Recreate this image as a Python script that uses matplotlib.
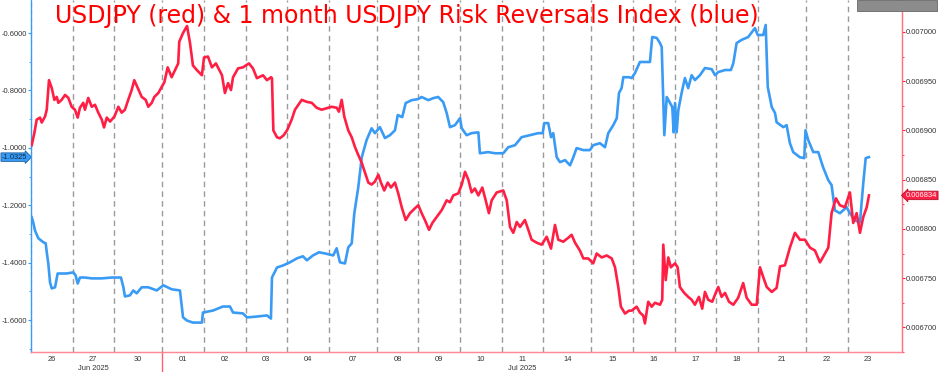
import numpy as np
import matplotlib
matplotlib.use("Agg")
import matplotlib.pyplot as plt
from matplotlib.patches import Rectangle
from matplotlib.transforms import blended_transform_factory

plt.rcParams["axes.unicode_minus"] = False
plt.rcParams["font.family"] = ["Liberation Sans", "DejaVu Sans"]

# Sessions (hours per day, Mondays include the Sunday evening open)
day_labels = ["26", "27", "30", "01", "02", "03", "04", "07", "08", "09",
              "10", "11", "14", "15", "16", "17", "18", "21", "22", "23"]
day_hours = [24, 24, 28, 24, 24, 24, 24, 28, 24, 24,
             24, 24, 28, 24, 24, 24, 24, 28, 24, 24]
month_labels = ["Jun 2025", "Jul 2025"]
month_label_days = ["27", "11"]
month_start_day = "01"

# USDJPY (inverted, USD per JPY), values in 1e-6
red_t = [0.4, 1.9, 3.3, 5.2, 6.2, 8.1, 9.1, 10.4, 12.0, 13.5, 14.9, 15.8, 17.7, 19.7, 21.6, 23.5,
         25.4, 27.0, 28.3, 30.2, 31.2, 33.1, 35.1, 37.0, 38.9, 40.9, 42.2, 43.8, 45.7, 48.2, 50.5,
         52.4, 54.3, 56.2, 58.2, 59.7, 61.7, 64.0, 66.3, 67.8, 69.8, 71.3, 73.6, 75.5, 77.1, 79.0,
         81.3, 83.2, 85.1, 85.7, 87.9, 90.2, 91.9, 93.6, 96.0, 98.8, 100.0, 102.3, 104.6, 106.9,
         110.4, 112.1, 113.9, 115.6, 116.8, 119.7, 122.5, 126.0, 128.3, 130.6, 134.1, 136.4, 138.7,
         139.3, 140.1, 142.2, 143.9, 146.0, 148.0, 150.7, 152.6, 156.5, 159.4, 162.3, 165.1, 168.0,
         171.8, 173.8, 176.7, 178.0, 179.6, 181.1, 183.4, 185.4, 187.3, 189.2, 191.2, 193.1, 195.0,
         196.9, 198.8, 200.8, 202.3, 204.2, 206.2, 208.1, 210.4, 212.3, 214.3, 216.6, 219.1, 222.0,
         223.9, 225.8, 227.7, 230.1, 232.0, 234.5, 237.4, 240.3, 242.2, 244.1, 247.0, 249.0, 250.9,
         252.8, 254.7, 256.6, 258.6, 260.9, 262.4, 264.7, 266.3, 269.2, 273.0, 275.0, 276.9, 278.8,
         280.8, 282.7, 285.5, 287.5, 289.4, 292.3, 295.2, 298.1, 300.6, 302.9, 304.8, 307.7, 310.6,
         312.5, 314.5, 317.3, 319.3, 322.1, 325.0, 327.0, 329.9, 332.8, 335.7, 337.6, 339.5, 341.0,
         343.4, 345.7, 347.2, 350.1, 352.0, 353.9, 354.9, 356.8, 358.8, 360.7, 363.6, 364.9, 365.5,
         366.9, 368.4, 369.9, 372.3, 373.8, 375.1, 377.6, 379.9, 381.9, 383.8, 386.1, 388.0, 389.6,
         391.5, 393.8, 395.8, 397.3, 399.2, 401.2, 403.5, 406.0, 408.8, 411.7, 413.7, 416.6, 419.5,
         421.4, 423.3, 425.3, 428.2, 431.0, 433.0, 435.8, 438.7, 441.6, 444.5, 447.4, 450.3, 453.2,
         456.1, 459.0, 460.9, 462.8, 465.3, 467.6, 470.5, 473.4, 475.3, 477.3, 479.2, 481.1, 483.1,
         484.4]
red_v = [6885, 6897, 6911, 6913, 6908, 6914, 6921, 6951, 6943, 6931, 6934, 6928, 6931, 6936, 6933, 6924,
         6921, 6913, 6923, 6928, 6921, 6933, 6924, 6926, 6918, 6911, 6903, 6913, 6909, 6914, 6924,
         6918, 6921, 6931, 6941, 6951, 6943, 6934, 6931, 6924, 6928, 6934, 6938, 6944, 6949, 6964,
         6954, 6961, 6968, 6990, 6999, 7006, 6989, 6966, 6961, 6956, 6974, 6975, 6964, 6968,
         6956, 6938, 6948, 6941, 6954, 6963, 6964, 6968, 6963, 6953, 6956, 6951, 6954,
         6953, 6900, 6893, 6892, 6895, 6900, 6911, 6921, 6931, 6929, 6928, 6923, 6921,
         6923, 6924, 6923, 6919, 6931, 6914, 6900, 6893, 6883, 6875, 6867, 6857, 6847,
         6845, 6848, 6855, 6847, 6839, 6847, 6842, 6847, 6836, 6822, 6809, 6816, 6821,
         6824, 6816, 6809, 6799, 6806, 6812, 6819, 6829, 6827, 6834, 6836, 6845, 6858,
         6850, 6837, 6841, 6834, 6842, 6832, 6816, 6829, 6837, 6839, 6829, 6802, 6796,
         6807, 6802, 6809, 6799, 6789, 6786, 6784, 6792, 6780, 6804, 6789, 6787, 6791,
         6794, 6786, 6778, 6770, 6770, 6765, 6775, 6771, 6773, 6770, 6761, 6741, 6721,
         6714, 6717, 6717, 6721, 6715, 6712, 6704, 6726, 6721, 6725, 6723, 6728, 6784,
         6748, 6771, 6761, 6765, 6761, 6741, 6735, 6731, 6728, 6723, 6731, 6719, 6736,
         6728, 6726, 6735, 6741, 6731, 6735, 6726, 6723, 6730, 6745, 6730, 6723, 6723,
         6761, 6751, 6741, 6736, 6740, 6762, 6763, 6781, 6796, 6789, 6789, 6781, 6778,
         6766, 6775, 6781, 6816, 6831, 6824, 6822, 6837, 6806, 6816, 6796, 6812, 6822,
         6834]

# 1 month USDJPY risk reversals index
blue_t = [0.4, 1.3, 2.3, 4.2, 7.1, 8.5, 9.2, 10.0, 11.0, 12.0, 13.9, 15.4, 17.7, 20.6, 24.5, 25.8,
          27.0, 28.3, 31.2, 35.1, 40.9, 46.6, 52.0, 53.4, 54.3, 57.2, 59.1, 61.1, 64.0, 67.8, 72.7,
          76.5, 81.3, 86.1, 87.9, 90.2, 93.6, 98.8, 99.4, 105.2, 111.0, 115.0, 116.8, 122.5, 124.9,
          130.6, 136.4, 138.7, 139.3, 142.2, 145.7, 149.7, 153.8, 157.2, 159.5, 163.0, 166.5, 169.9,
          174.7, 176.7, 178.6, 181.5, 183.4, 185.4, 186.9, 189.2, 191.2, 194.0, 196.9, 198.8, 201.7,
          204.6, 207.5, 210.4, 212.0, 214.6, 216.6, 220.1, 223.9, 225.8, 229.7, 232.5, 235.4, 238.3,
          240.3, 242.2, 245.1, 248.0, 249.0, 251.8, 254.7, 258.6, 259.5, 264.3, 268.2, 273.0, 275.9,
          279.8, 283.6, 288.4, 293.2, 295.8, 296.7, 299.0, 300.6, 301.9, 303.9, 305.8, 308.7, 311.6,
          313.5, 315.4, 319.3, 323.1, 325.0, 328.9, 331.8, 333.7, 336.6, 338.6, 339.9, 341.4, 342.4,
          345.7, 347.2, 349.1, 352.0, 357.8, 359.1, 361.7, 363.6, 364.6, 365.5, 366.1, 367.5, 369.4,
          370.7, 371.5, 372.3, 373.2, 374.2, 376.1, 378.0, 379.9, 381.9, 383.8, 386.7, 389.6, 393.5,
          395.4, 397.3, 401.2, 404.6, 406.0, 407.9, 410.8, 414.6, 418.5, 420.1, 423.3, 424.7, 425.9,
          428.2, 430.1, 431.0, 434.9, 436.8, 438.7, 440.6, 444.5, 447.0, 447.7, 449.3, 452.2, 455.1,
          457.9, 460.9, 462.8, 464.7, 467.6, 471.5, 473.4, 476.3, 479.2, 481.1, 482.5, 484.4]
blue_v = [-1.242, -1.260, -1.288, -1.315, -1.329, -1.333, -1.368, -1.403, -1.469, -1.490, -1.486,
          -1.438, -1.438, -1.438, -1.434, -1.445, -1.473, -1.452, -1.452, -1.455, -1.455, -1.452,
          -1.452, -1.486, -1.518, -1.514, -1.497, -1.507, -1.486, -1.486, -1.497, -1.479, -1.493,
          -1.497, -1.591, -1.602, -1.609, -1.609, -1.574, -1.567, -1.553, -1.553, -1.574, -1.577,
          -1.591, -1.588, -1.584, -1.595, -1.452, -1.417, -1.410, -1.399, -1.385, -1.378, -1.392,
          -1.375, -1.364, -1.368, -1.375, -1.350, -1.399, -1.403, -1.347, -1.333, -1.228, -1.137,
          -1.033, -0.973, -0.932, -0.949, -0.928, -0.966, -0.956, -0.939, -0.886, -0.893, -0.844,
          -0.834, -0.830, -0.823, -0.834, -0.827, -0.823, -0.841, -0.879, -0.928, -0.921, -0.897,
          -0.932, -0.956, -0.949, -0.946, -1.019, -1.015, -1.019, -1.019, -0.998, -0.991, -0.963,
          -0.956, -0.949, -0.949, -0.914, -0.914, -0.963, -0.949, -1.033, -1.050, -1.043, -1.061,
          -1.033, -1.001, -1.008, -1.008, -0.991, -0.984, -0.998, -0.949, -0.921, -0.897, -0.809,
          -0.792, -0.754, -0.754, -0.757, -0.740, -0.701, -0.701, -0.614, -0.617, -0.635, -0.649,
          -0.834, -0.956, -0.823, -0.844, -0.858, -0.946, -0.844, -0.946, -0.869, -0.809, -0.757,
          -0.792, -0.747, -0.764, -0.747, -0.722, -0.726, -0.747, -0.736, -0.729, -0.729, -0.705,
          -0.635, -0.624, -0.614, -0.583, -0.607, -0.607, -0.572, -0.788, -0.858, -0.879, -0.911,
          -0.928, -0.921, -0.984, -1.015, -1.033, -1.036, -0.939, -0.973, -1.015, -1.015, -1.068,
          -1.113, -1.130, -1.218, -1.228, -1.207, -1.228, -1.253, -1.260, -1.124, -1.036, -1.0325]

RED = "#ff1f44"
BLUE = "#3a9bf5"
GRID = "#9a9a9a"
TXT = "#333333"
FS = 5.4

edges = np.concatenate([[0], np.cumsum(day_hours)])
centers = (edges[:-1] + edges[1:]) / 2

fig = plt.figure(figsize=(9.4, 3.72), dpi=100)
ax = fig.add_axes([31 / 940, 20 / 372, 871 / 940, 352 / 372])
ax2 = ax.twinx()

# Day separators
for e in edges[1:-1]:
    ax.axvline(e, color=GRID, lw=1.0, ls=(0, (4, 3)), zorder=0)

ax.plot(blue_t, blue_v, color=BLUE, lw=1.9, zorder=3)
ax2.plot(red_t, np.array(red_v) * 1e-6, color=RED, lw=1.9, zorder=3)

ax.set_xlim(0, 503.5)
ax.set_ylim(-1.7115, -0.485)
ax2.set_ylim(0.0066757, 0.0070324)

# Left axis (blue)
ax.set_yticks(np.arange(-1.6, -0.55, 0.2))
ax.set_yticks(np.arange(-1.7, -0.55, 0.1), minor=True)
ax.yaxis.set_major_formatter(matplotlib.ticker.FormatStrFormatter("%.4f"))
ax.tick_params(axis="y", which="major", length=2.0, width=0.8, color=BLUE, pad=0.8,
               labelsize=FS, labelcolor=TXT)
ax.tick_params(axis="y", which="minor", length=1.5, width=0.6, color=BLUE)

# Right axis (red)
ax2.set_yticks(np.arange(0.0067, 0.007001, 0.00005))
ax2.set_yticks(np.arange(0.006675, 0.007026, 0.000025), minor=True)
ax2.yaxis.set_major_formatter(matplotlib.ticker.FormatStrFormatter("%.6f"))
ax2.tick_params(axis="y", which="major", length=2.0, width=0.8, color=RED, pad=1,
                labelsize=FS, labelcolor=TXT)
ax2.tick_params(axis="y", which="minor", length=1.5, width=0.6, color=RED)

# X axis: day labels
ax.set_xticks(centers)
ax.set_xticklabels(day_labels)
ax.tick_params(axis="x", length=0, pad=3, labelsize=FS, labelcolor=TXT)

trans = blended_transform_factory(ax.transData, ax.transAxes)
for lab, d in zip(month_labels, month_label_days):
    ax.text(centers[day_labels.index(d)], -0.036, lab, transform=trans, ha="center",
            va="top", fontsize=FS, color=TXT)
m = edges[day_labels.index(month_start_day)]
ax.plot([m, m], [0, -0.06], transform=trans, color="#ff6070", lw=1.0, clip_on=False)

for a in (ax, ax2):
    a.spines["top"].set_visible(False)
    a.spines["left"].set_color(BLUE)
    a.spines["right"].set_color("#ff7080")
    a.spines["bottom"].set_color("#ff8a95")
    a.spines["left"].set_linewidth(0.9)
    a.spines["right"].set_linewidth(0.9)
    a.spines["bottom"].set_linewidth(0.9)
ax.spines["left"].set_linestyle((0, (4, 2)))

# Last value tags
ax.text(-0.0045, blue_v[-1], f"{blue_v[-1]:.4f}",
        transform=blended_transform_factory(ax.transAxes, ax.transData),
        ha="right", va="center", fontsize=FS, color="#0b2a4a",
        bbox=dict(boxstyle="rarrow,pad=0.1", fc=BLUE, ec="#1d5fa0", lw=0.6), clip_on=False)
ax2.text(1.0045, red_v[-1] * 1e-6, f"{red_v[-1] * 1e-6:.6f}",
         transform=blended_transform_factory(ax2.transAxes, ax2.transData),
         ha="left", va="center", fontsize=FS, color="white",
         bbox=dict(boxstyle="larrow,pad=0.1", fc=RED, ec="#b0102a", lw=0.6), clip_on=False)

# Title inside the plot
fig.text(55 / 940, 1 - 16 / 372, "USDJPY (red) & 1 month USDJPY Risk Reversals Index (blue)",
         color="#ff0000", fontsize=17, ha="left", va="center", family="DejaVu Sans")

# Toolbar
fig.patches.append(Rectangle((857 / 940, 1 - 11 / 372), 80 / 940, 11 / 372, transform=fig.transFigure,
                             fc="#8c8c8c", ec="#666666", lw=0.6))

fig.savefig("out.png", dpi=100)
